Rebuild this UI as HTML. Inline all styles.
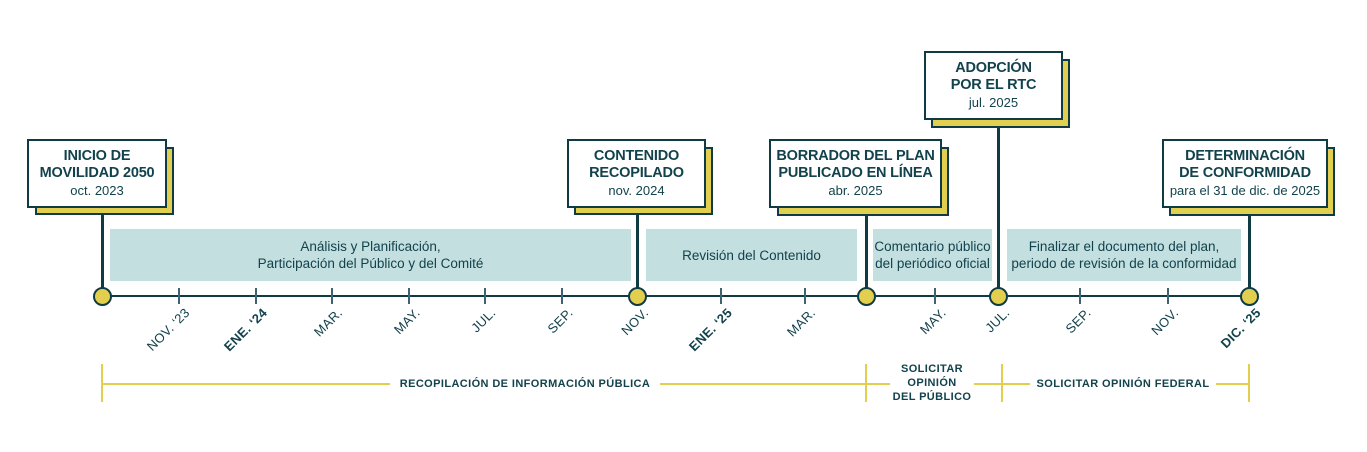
<!DOCTYPE html>
<html><head><meta charset="utf-8"><style>
body{margin:0;width:1367px;height:452px;background:#fff;position:relative;overflow:hidden;font-family:"Liberation Sans",sans-serif;color:#12424c}
.a{position:absolute}
.sh{position:absolute;background:#e2cf4f;border:2px solid #0f3b45;box-sizing:border-box}
.bx{position:absolute;background:#fff;border:2px solid #0f3b45;box-sizing:border-box;text-align:center;padding-top:7px}
.bx b{display:block;font-size:14.5px;line-height:17px;letter-spacing:-0.2px}
.bx span{display:block;font-size:13px;line-height:17px}
.vl{position:absolute;width:3px;background:#0f3b45}
.band{position:absolute;top:229px;height:52px;background:#c3dfe0;font-size:13.5px;line-height:17px;display:flex;align-items:center;justify-content:center;text-align:center}
.tk{position:absolute;top:288px;height:16px;width:1.5px;background:#3d6470}
.dot{position:absolute;top:287px;width:15px;height:15px;border-radius:50%;background:#e2cf4f;border:2px solid #0f3b45}
.ml{position:absolute;top:305px;font-size:13px;white-space:nowrap;transform-origin:100% 0;transform:rotate(-45deg);letter-spacing:0.3px}
.yl{position:absolute;height:2px;background:#e2cf4f;top:383px}
.yv{position:absolute;width:2px;background:#e2cf4f;top:364px;height:38px}
.bl{position:absolute;font-size:11px;font-weight:bold;background:#fff;text-align:center;letter-spacing:0.4px;line-height:14px}
</style></head><body>
<div class="a" style="left:102px;top:295px;width:1147px;height:2px;background:#0f3b45"></div>
<div class="band" style="left:110px;width:521px">Análisis y Planificación,<br>Participación del Público y del Comité</div>
<div class="band" style="left:646px;width:211px">Revisión del Contenido</div>
<div class="band" style="left:873px;width:119px">Comentario público<br>del periódico oficial</div>
<div class="band" style="left:1007px;width:234px">Finalizar el documento del plan,<br>periodo de revisión de la conformidad</div>
<div class="vl" style="left:101px;top:214px;height:80px"></div>
<div class="vl" style="left:636px;top:214px;height:80px"></div>
<div class="vl" style="left:865px;top:215px;height:80px"></div>
<div class="vl" style="left:997px;top:127px;height:168px"></div>
<div class="vl" style="left:1248px;top:215px;height:80px"></div>
<div class="sh" style="left:35px;top:147px;width:139px;height:68px"></div>
<div class="bx" style="left:27px;top:139px;width:140px;height:69px"><b>INICIO DE</b><b>MOVILIDAD 2050</b><span>oct. 2023</span></div>
<div class="sh" style="left:574px;top:147px;width:139px;height:68px"></div>
<div class="bx" style="left:567px;top:139px;width:139px;height:69px"><b>CONTENIDO</b><b>RECOPILADO</b><span>nov. 2024</span></div>
<div class="sh" style="left:777px;top:147px;width:172px;height:69px"></div>
<div class="bx" style="left:769px;top:139px;width:173px;height:69px"><b>BORRADOR DEL PLAN</b><b>PUBLICADO EN LÍNEA</b><span>abr. 2025</span></div>
<div class="sh" style="left:931px;top:59px;width:139px;height:69px"></div>
<div class="bx" style="left:924px;top:51px;width:139px;height:69px"><b>ADOPCIÓN</b><b>POR EL RTC</b><span>jul. 2025</span></div>
<div class="sh" style="left:1169px;top:147px;width:166px;height:69px"></div>
<div class="bx" style="left:1162px;top:139px;width:166px;height:69px"><b>DETERMINACIÓN</b><b>DE CONFORMIDAD</b><span>para el 31 de dic. de 2025</span></div>
<div class="tk" style="left:178px"></div><div class="tk" style="left:255px"></div><div class="tk" style="left:331px"></div><div class="tk" style="left:408px"></div><div class="tk" style="left:484px"></div><div class="tk" style="left:561px"></div><div class="tk" style="left:720px"></div><div class="tk" style="left:804px"></div><div class="tk" style="left:934px"></div><div class="tk" style="left:1079px"></div><div class="tk" style="left:1167px"></div>
<div class="dot" style="left:93px"></div><div class="dot" style="left:628px"></div><div class="dot" style="left:857px"></div><div class="dot" style="left:989px"></div><div class="dot" style="left:1240px"></div>
<div class="ml" style="right:1185px">NOV. ‘23</div>
<div class="ml" style="right:1108px;font-weight:bold">ENE. ‘24</div>
<div class="ml" style="right:1032px">MAR.</div>
<div class="ml" style="right:955px">MAY.</div>
<div class="ml" style="right:879px">JUL.</div>
<div class="ml" style="right:802px">SEP.</div>
<div class="ml" style="right:726px">NOV.</div>
<div class="ml" style="right:643px;font-weight:bold">ENE. ‘25</div>
<div class="ml" style="right:559px">MAR.</div>
<div class="ml" style="right:429px">MAY.</div>
<div class="ml" style="right:365px">JUL.</div>
<div class="ml" style="right:284px">SEP.</div>
<div class="ml" style="right:196px">NOV.</div>
<div class="ml" style="right:114px;font-weight:bold">DIC. ‘25</div>
<div class="yl" style="left:102px;width:1147px"></div>
<div class="yv" style="left:101px"></div><div class="yv" style="left:865px"></div><div class="yv" style="left:1001px"></div><div class="yv" style="left:1248px"></div>
<div class="bl" style="left:390px;top:377px;width:270px">RECOPILACIÓN DE INFORMACIÓN PÚBLICA</div>
<div class="bl" style="left:890px;top:362px;width:84px">SOLICITAR<br>OPINIÓN<br>DEL PÚBLICO</div>
<div class="bl" style="left:1030px;top:377px;width:186px">SOLICITAR OPINIÓN FEDERAL</div>
</body></html>
